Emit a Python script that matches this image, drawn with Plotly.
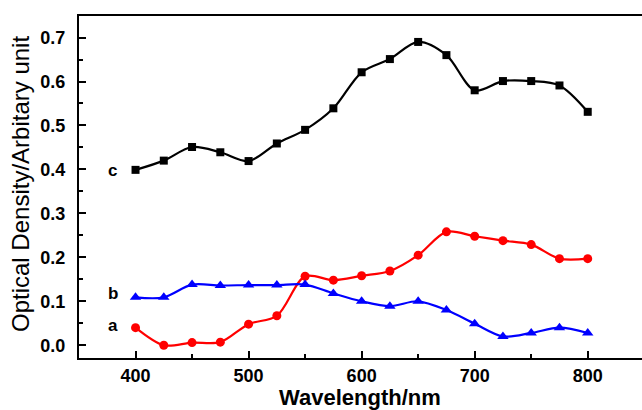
import plotly.graph_objects as go

wavelength = [400, 425, 450, 475, 500, 525, 550, 575, 600, 625, 650, 675, 700, 725, 750, 775, 800]
series_a = [0.04, 0.00, 0.006, 0.007, 0.048, 0.067, 0.157, 0.148, 0.158, 0.169, 0.205, 0.258, 0.248, 0.238, 0.229, 0.197, 0.197]
series_b = [0.109, 0.109, 0.138, 0.136, 0.137, 0.137, 0.138, 0.118, 0.10, 0.089, 0.10, 0.08, 0.049, 0.02, 0.028, 0.04, 0.028]
series_c = [0.399, 0.42, 0.451, 0.439, 0.419, 0.459, 0.49, 0.539, 0.621, 0.651, 0.69, 0.66, 0.58, 0.601, 0.601, 0.591, 0.531]
labels = ["a", "b", "c"]
label_y = [0.046, 0.118, 0.397]
x_ticks = [400, 500, 600, 700, 800]
y_ticks = [0, 0.1, 0.2, 0.3, 0.4, 0.5, 0.6, 0.7]

W, H = 642, 410
L, R, T, B = 79, 0, 16, 52
pw, ph = W - L - R, H - T - B

fig = go.Figure()
specs = [
    (series_c, "black", "square", 8),
    (series_a, "#ff0000", "circle", 9),
    (series_b, "#0000ff", "triangle-up", 10),
]
for vals, col, sym, sz in specs:
    fig.add_trace(go.Scatter(
        x=wavelength, y=vals, mode="lines+markers",
        line=dict(color=col, width=2.2, shape="spline", smoothing=0.9),
        marker=dict(color=col, symbol=sym, size=sz),
        showlegend=False, cliponaxis=False,
    ))

for lab, yv in zip(labels, label_y):
    fig.add_annotation(x=380, y=yv, xref="x", yref="y", text=f"<b>{lab}</b>",
                       showarrow=False, font=dict(size=17, color="black"))

fig.add_annotation(xref="paper", yref="paper", x=(360 - L) / pw, y=(H - B - 412) / ph,
                   text="<b>Wavelength/nm</b>", showarrow=False,
                   font=dict(size=22, color="black"), xanchor="center", yanchor="bottom")
fig.add_annotation(xref="paper", yref="paper", x=(20 - L) / pw, y=(H - B - 184) / ph,
                   text="Optical Density/Arbitary unit", showarrow=False, textangle=-90,
                   font=dict(size=24, color="black"), xanchor="center", yanchor="middle")

fig.update_layout(
    width=W, height=H,
    margin=dict(l=L, r=R, t=T, b=B, pad=0),
    paper_bgcolor="white", plot_bgcolor="white",
    font=dict(family="Liberation Sans, Arial, sans-serif", color="black"),
    xaxis=dict(
        range=[350, 848], tickmode="array", tickvals=x_ticks,
        ticktext=["<b>%d</b>" % v for v in x_ticks],
        ticks="inside", ticklen=7, tickwidth=2, tickcolor="black",
        minor=dict(tickvals=[450, 550, 650, 750], ticks="inside", ticklen=4, tickwidth=2, tickcolor="black"),
        showline=True, linecolor="black", linewidth=2, mirror=True,
        showgrid=False, zeroline=False, tickfont=dict(size=18, color="black"),
    ),
    yaxis=dict(
        range=[-0.029, 0.749], tickmode="array", tickvals=y_ticks,
        ticktext=["<b>%.1f</b>" % v for v in y_ticks],
        ticks="inside", ticklen=7, tickwidth=2, tickcolor="black", ticklabelstandoff=8,
        minor=dict(tickvals=[0.05, 0.15, 0.25, 0.35, 0.45, 0.55, 0.65], ticks="inside", ticklen=4, tickwidth=2, tickcolor="black"),
        showline=True, linecolor="black", linewidth=2, mirror=False,
        showgrid=False, zeroline=False, tickfont=dict(size=18, color="black"),
    ),
)

fig.write_html("out.html", config={"displayModeBar": False},
               post_script="document.body.style.margin='0';document.body.style.overflow='hidden';")
